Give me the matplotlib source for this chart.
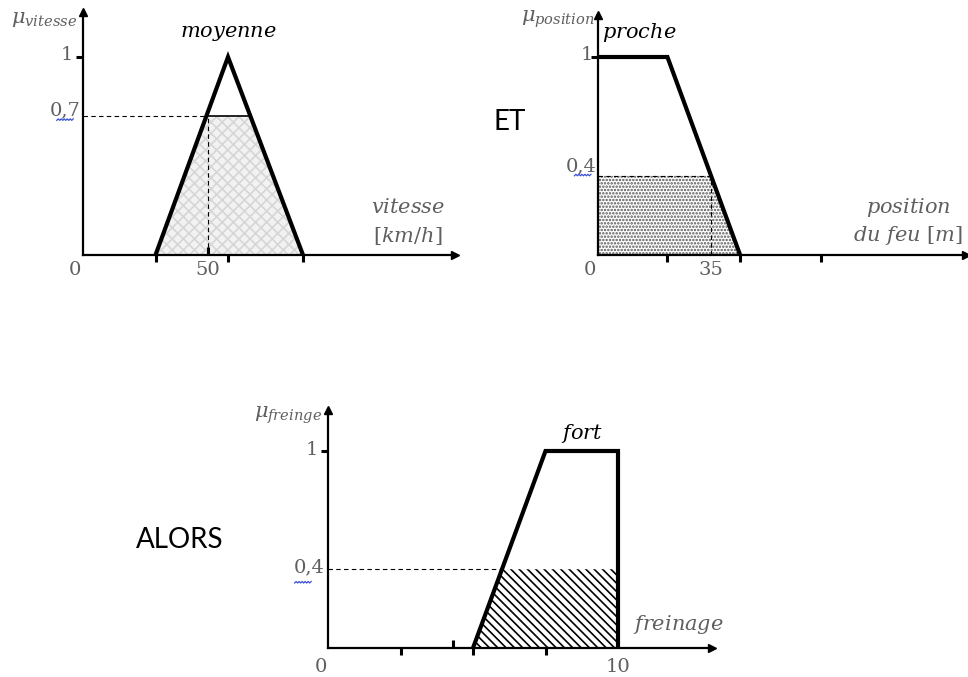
import matplotlib.pyplot as plt
import numpy as np
from matplotlib.lines import Line2D

# --- vitesse [km/h], ensemble "moyenne" (triangle)
vit_x = [29, 58, 88]
vit_mu = [0, 1, 0]
vit_val = 50        # vitesse mesuree
vit_deg = 0.7       # degre d'appartenance
vit_ticks = [29, 58, 88]

# --- position du feu [m], ensemble "proche" (trapeze ouvert a gauche)
pos_x = [0, 21.5, 44]
pos_mu = [1, 1, 0]
pos_val = 35
pos_deg = 0.4
pos_ticks = [21.5, 44, 69]

# --- freinage, ensemble "fort"
fr_x = [5, 7.5, 10, 10]
fr_mu = [0, 1, 1, 0]
fr_deg = 0.4
fr_ticks = [2.5, 5, 7.5]
fr_ticks_up = [4.3]

W, H = 968, 677
GREY = '#5f5f5f'
SERIF = 'DejaVu Serif'
plt.rcParams['mathtext.fontset'] = 'dejavuserif'
plt.rcParams['hatch.linewidth'] = 1.2

fig = plt.figure(figsize=(W / 100, H / 100), dpi=100)


def make_axes(x0, x1, y_base, y_one, y_top, px_per_unit):
    ax = fig.add_axes([x0 / W, (H - y_base) / H, (x1 - x0) / W, (y_base - y_top) / H])
    ax.set_xlim(0, (x1 - x0) / px_per_unit)
    ax.set_ylim(0, (y_base - y_top) / (y_base - y_one))
    for s in ['top', 'right']:
        ax.spines[s].set_visible(False)
    for s in ['left', 'bottom']:
        ax.spines[s].set_linewidth(1.6)
    ax.plot(1, 0, '>k', ms=6, transform=ax.get_yaxis_transform(), clip_on=False)
    ax.plot(0, 1, '^k', ms=6, transform=ax.get_xaxis_transform(), clip_on=False)
    ax.set_yticks([1])
    ax.set_yticklabels([])
    ax.tick_params(axis='both', which='major', direction='out', length=5, width=2.2)
    ax.tick_params(axis='both', which='minor', direction='in', length=6, width=2.2)
    ax.patch.set_alpha(0)
    return ax


def clip_mf(x, mu, level):
    # fonction d'appartenance ecretee au niveau d'activation
    px, py = [], []
    for i in range(len(x)):
        if i > 0 and (mu[i - 1] - level) * (mu[i] - level) < 0:
            t = (level - mu[i - 1]) / (mu[i] - mu[i - 1])
            px.append(x[i - 1] + t * (x[i] - x[i - 1]))
            py.append(level)
        px.append(x[i])
        py.append(min(mu[i], level))
    return px, py


def num(ax, x, y, s, ha='center'):
    ax.text(x, y, s, ha=ha, va='center', fontsize=14, color=GREY, family=SERIF)


def mu_label(ax, x, y, name):
    ax.text(x, y, r'$\mu_{' + name + '}$', ha='right', va='center', fontsize=15, color=GREY)


def squiggle(ax, x, y):
    # soulignement ondule sous la virgule
    fig.canvas.draw()
    X, Y = ax.transData.transform((x, y))
    xs = X + np.arange(0, 17, 1.5)
    ys = Y + np.where(np.arange(len(xs)) % 2 == 0, 0, 1.5)
    fig.add_artist(Line2D(xs, ys, transform=None, color='#3a50d8', lw=0.9))


# ================= vitesse =================
ax1 = make_axes(83, 455, 255, 57, 12, 2.5)
ax1.set_xticks(vit_ticks)
ax1.set_xticks([vit_val], minor=True)
ax1.set_xticklabels([])
vx, vy = clip_mf(vit_x, vit_mu, vit_deg)
ax1.fill_between(vx, 0, vy, facecolor='#f2f2f2', edgecolor='#d6d6d6', hatch='xxx', lw=0)
ax1.plot(vit_x, vit_mu, color='k', lw=3, solid_joinstyle='miter')
ax1.plot([vx[1], vx[3]], [vit_deg, vit_deg], color='k', lw=1.2)
ax1.plot([0, vx[1]], [vit_deg, vit_deg], 'k--', lw=0.8, dashes=(4, 3))
ax1.plot([vit_val, vit_val], [0, vit_deg], 'k--', lw=0.8, dashes=(4, 3))
ax1.text(vit_x[1], 1.12, r'$moyenne$', ha='center', va='center', fontsize=15)
mu_label(ax1, -2.5, 1.19, 'vitesse')
ax1.text(130, 0.24, r'$vitesse$', ha='center', va='center', fontsize=15, color=GREY)
ax1.text(130, 0.096, r'$[km/h]$', ha='center', va='center', fontsize=15, color=GREY)
num(ax1, -3.2, -0.076, '0')
num(ax1, vit_val, -0.076, '50')
num(ax1, -4, 1.01, '1', ha='right')
num(ax1, -1, vit_deg + 0.03, '0,7', ha='right')
squiggle(ax1, -10.5, vit_deg - 0.02)

# ================= position du feu =================
ax2 = make_axes(598, 966, 255, 57, 15, 3.23)
ax2.set_xticks(pos_ticks)
ax2.set_xticklabels([])
px, py = clip_mf(pos_x, pos_mu, pos_deg)
px = [0] + px
py = [0] + py
ax2.fill_between(px, 0, py, facecolor='white', edgecolor='#555555', hatch='.....', lw=0)
ax2.plot(pos_x, pos_mu, color='k', lw=3, solid_joinstyle='miter')
ax2.plot([0, px[3]], [pos_deg, pos_deg], 'k--', lw=0.8, dashes=(4, 3))
ax2.plot([pos_val, pos_val], [0, pos_deg], 'k--', lw=0.8, dashes=(4, 3))
ax2.text(1.2, 1.126, r'$proche$', ha='left', va='center', fontsize=15)
mu_label(ax2, -1, 1.19, 'position')
ax2.text(96, 0.24, r'$position$', ha='center', va='center', fontsize=15, color=GREY)
ax2.text(96, 0.096, r'$du\ feu\ [m]$', ha='center', va='center', fontsize=15, color=GREY)
num(ax2, -2.5, -0.076, '0')
num(ax2, pos_val, -0.076, '35')
num(ax2, -1.5, 1.01, '1', ha='right')
num(ax2, -0.5, pos_deg + 0.05, '0,4', ha='right')
squiggle(ax2, -7.3, pos_deg - 0.0)

fig.text(510 / W, 1 - 122 / H, 'ET', ha='center', va='center', fontsize=20, family='Lato')

# ================= freinage =================
ax3 = make_axes(328, 712, 648, 451, 410, 29)
ax3.set_xticks(fr_ticks)
ax3.set_xticks(fr_ticks_up, minor=True)
ax3.set_xticklabels([])
fx, fy = clip_mf(fr_x, fr_mu, fr_deg)
ax3.fill_between(fx, 0, fy, facecolor='white', edgecolor='k', hatch=r'\\\\', lw=0)
ax3.plot(fr_x, fr_mu, color='k', lw=3, solid_joinstyle='miter')
ax3.plot([0, fx[1]], [fr_deg, fr_deg], 'k--', lw=0.8, dashes=(4, 3))
ax3.text((fr_x[1] + fr_x[2]) / 2, 1.09, r'$fort$', ha='center', va='center', fontsize=15)
mu_label(ax3, -0.2, 1.18, 'freinge')
ax3.text(12.07, 0.117, r'$freinage$', ha='center', va='center', fontsize=15, color=GREY)
num(ax3, -0.25, -0.096, '0')
num(ax3, fr_x[2], -0.096, '10')
num(ax3, -0.35, 1.005, '1', ha='right')
num(ax3, -0.1, fr_deg + 0.01, '0,4', ha='right')
squiggle(ax3, -1.15, fr_deg - 0.07)

fig.text(180 / W, 1 - 540 / H, 'ALORS', ha='center', va='center', fontsize=20, family='Lato')

fig.savefig('out.png', dpi=100)
